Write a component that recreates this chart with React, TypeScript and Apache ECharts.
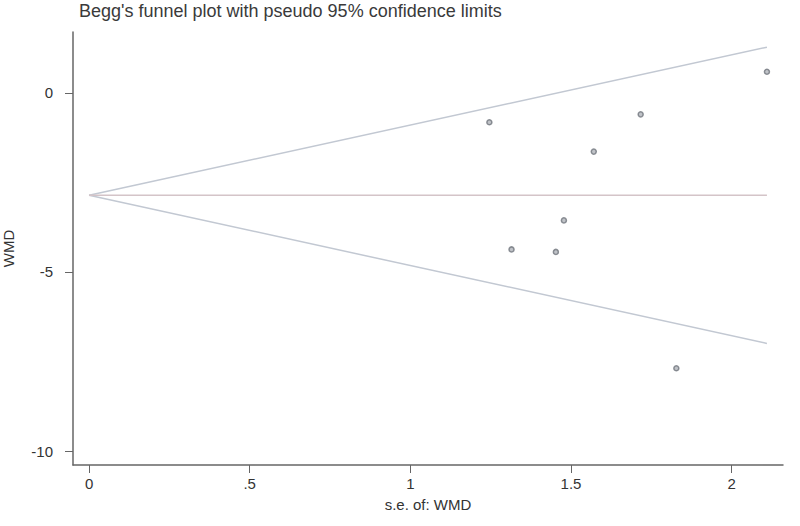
import React, { useEffect, useRef } from "react";
import * as echarts from "echarts";

const seValues = [1.246, 1.717, 1.571, 1.478, 1.315, 1.453, 1.828, 2.11];
const wmdValues = [-0.82, -0.6, -1.64, -3.56, -4.37, -4.44, -7.69, 0.59];
const xTicks = [0, 0.5, 1, 1.5, 2];
const xTickLabels = ["0", ".5", "1", "1.5", "2"];
const yTicks = [-10, -5, 0];
const pooled = -2.86;
const maxSE = 2.11;

export default function App() {
  const ref = useRef<HTMLDivElement>(null);
  useEffect(() => {
    document.body.style.margin = "0";
    if (!ref.current) return;
    const chart = echarts.init(ref.current, null, { renderer: "svg" });
    const font = "Liberation Sans, Arial, sans-serif";
    chart.setOption({
      animation: false,
      backgroundColor: "#fff",
      title: {
        text: "Begg's funnel plot with pseudo 95% confidence limits",
        left: 74,
        top: -3,
        textStyle: { fontSize: 18, fontWeight: "normal", color: "#3a3a3a", fontFamily: font },
      },
      grid: { left: 73, top: 32, right: 17, bottom: 61, outerBoundsMode: "none", containLabel: false },
      xAxis: {
        type: "value",
        min: -0.05,
        max: 2.16,
        name: "s.e. of: WMD",
        nameLocation: "middle",
        nameGap: 32,
        nameTextStyle: { fontSize: 15, color: "#333", fontFamily: font },
        axisLine: { show: true, onZero: false, lineStyle: { color: "#666", width: 1.5 } },
        axisTick: { show: true, length: 8, customValues: xTicks, lineStyle: { color: "#666" } },
        axisLabel: {
          customValues: xTicks,
          margin: 11,
          fontSize: 15,
          color: "#333",
          fontFamily: font,
          formatter: (v: number) => xTickLabels[xTicks.indexOf(v)] ?? String(v),
        },
        splitLine: { show: false },
      },
      yAxis: {
        type: "value",
        min: -10.39,
        max: 1.7,
        name: "WMD",
        nameLocation: "middle",
        nameRotate: 90,
        nameGap: 57,
        nameTextStyle: { fontSize: 15, color: "#333", fontFamily: font },
        axisLine: { show: true, onZero: false, lineStyle: { color: "#666", width: 1.5 } },
        axisTick: { show: true, length: 8, customValues: yTicks, lineStyle: { color: "#666" } },
        axisLabel: {
          customValues: yTicks,
          margin: 20,
          fontSize: 15,
          color: "#333",
          fontFamily: font,
          formatter: (v: number) => String(v),
        },
        splitLine: { show: false },
      },
      series: [
        {
          type: "line",
          data: [[0, pooled], [maxSE, pooled + 1.96 * maxSE]],
          symbol: "none",
          lineStyle: { color: "#c2c8d2", width: 1.5 },
        },
        {
          type: "line",
          data: [[0, pooled], [maxSE, pooled - 1.96 * maxSE]],
          symbol: "none",
          lineStyle: { color: "#c2c8d2", width: 1.5 },
        },
        {
          type: "line",
          data: [[0, pooled], [maxSE, pooled]],
          symbol: "none",
          lineStyle: { color: "#d4c4c8", width: 1.5 },
        },
        {
          type: "scatter",
          data: seValues.map((s, i) => [s, wmdValues[i]]),
          symbol: "circle",
          symbolSize: 5,
          itemStyle: { color: "#b0b4ba", borderColor: "#6f747c", borderWidth: 1.5 },
        },
      ],
    });
    return () => chart.dispose();
  }, []);
  return <div ref={ref} style={{ width: 800, height: 526 }} />;
}
